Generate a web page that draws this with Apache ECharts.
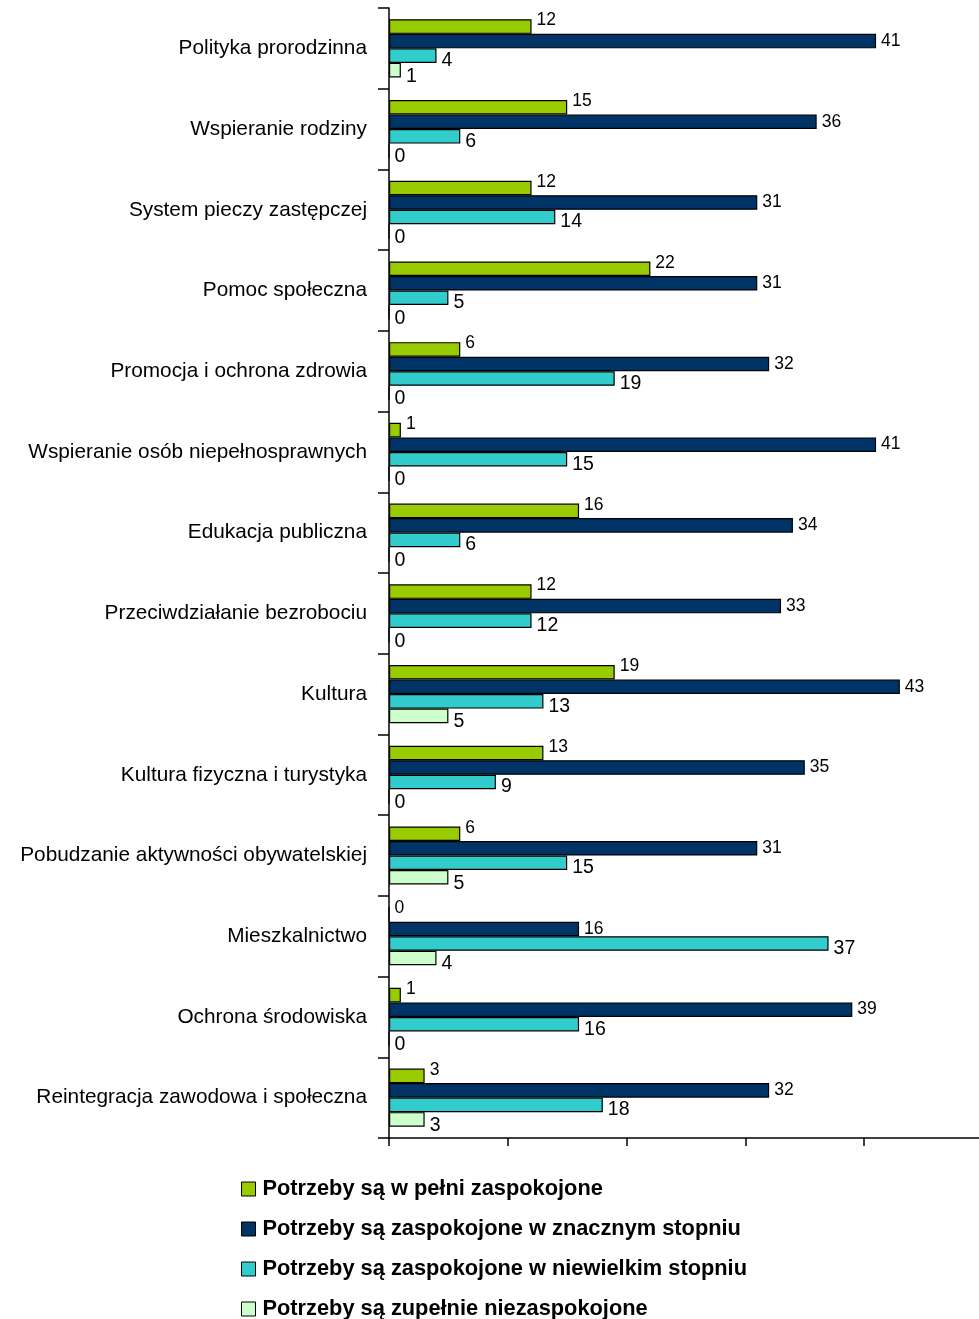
<!DOCTYPE html>
<html>
<head>
<meta charset="utf-8">
<script src="https://cdn.jsdelivr.net/npm/echarts@6/dist/echarts.min.js"></script>
<style>
html,body{margin:0;padding:0;background:#fff;}
#chart{width:979px;height:1319px;}
</style>
</head>
<body>
<div id="chart"></div>
<script>
const categories = [
  'Polityka prorodzinna',
  'Wspieranie rodziny',
  'System pieczy zastępczej',
  'Pomoc społeczna',
  'Promocja i ochrona zdrowia',
  'Wspieranie osób niepełnosprawnych',
  'Edukacja publiczna',
  'Przeciwdziałanie bezrobociu',
  'Kultura',
  'Kultura fizyczna i turystyka',
  'Pobudzanie aktywności obywatelskiej',
  'Mieszkalnictwo',
  'Ochrona środowiska',
  'Reintegracja zawodowa i społeczna'
];
const seriesNames = [
  'Potrzeby są w pełni zaspokojone',
  'Potrzeby są zaspokojone w znacznym stopniu',
  'Potrzeby są zaspokojone w niewielkim stopniu',
  'Potrzeby są zupełnie niezaspokojone'
];
const fullySatisfied    = [12, 15, 12, 22, 6, 1, 16, 12, 19, 13, 6, 0, 1, 3];
const largelySatisfied  = [41, 36, 31, 31, 32, 41, 34, 33, 43, 35, 31, 16, 39, 32];
const slightlySatisfied = [4, 6, 14, 5, 19, 15, 6, 12, 13, 9, 15, 37, 16, 18];
const notSatisfied      = [1, 0, 0, 0, 0, 0, 0, 0, 5, 0, 5, 4, 0, 3];

const values = [fullySatisfied, largelySatisfied, slightlySatisfied, notSatisfied];
const colors = ['#99CC00', '#003366', '#33CCCC', '#CCFFCC'];
const labelSizes = [17.5, 17.5, 19.5, 19.5];
const labelOffsets = [[0, -6], [0, 0], [0, 5], [0, 6]];
const FONT = "'Liberation Sans', Arial, sans-serif";

const chart = echarts.init(document.getElementById('chart'), null, {renderer: 'canvas'});
chart.setOption({
  animation: false,
  backgroundColor: '#ffffff',
  grid: {left: 389, top: 8, bottom: 181, right: -4, containLabel: false, outerBoundsMode: 'none'},
  xAxis: {
    type: 'value', min: 0, max: 50, interval: 10,
    axisLine: {show: true, lineStyle: {color: '#000', width: 1.5}},
    axisTick: {show: true, length: 8, lineStyle: {color: '#000', width: 1.5}},
    axisLabel: {show: false},
    splitLine: {show: false}
  },
  yAxis: {
    type: 'category', inverse: true, data: categories,
    axisLine: {show: true, lineStyle: {color: '#000', width: 1.5}},
    axisTick: {show: true, length: 11, lineStyle: {color: '#000', width: 1.5}},
    axisLabel: {color: '#000', fontFamily: FONT, fontSize: 20.8, margin: 22}
  },
  legend: seriesNames.map((name, i) => ({
    orient: 'vertical', left: 236, top: 1173 + i * 40,
    itemWidth: 14, itemHeight: 14,
    icon: 'rect',
    itemStyle: {borderColor: '#000', borderWidth: 1},
    textStyle: {color: '#000', fontFamily: FONT, fontWeight: 'bold', fontSize: 21.8, padding: [0, 0, 0, 2]},
    data: [name]
  })),
  series: seriesNames.map((name, i) => ({
    name: name,
    type: 'bar',
    data: values[i],
    barGap: '0%',
    barCategoryGap: '28%',
    itemStyle: {color: colors[i], borderColor: '#000', borderWidth: 1.2},
    label: {
      show: true, position: 'right', distance: 5,
      offset: labelOffsets[i],
      color: '#000', fontFamily: FONT, fontSize: labelSizes[i]
    }
  }))
});
</script>
</body>
</html>
